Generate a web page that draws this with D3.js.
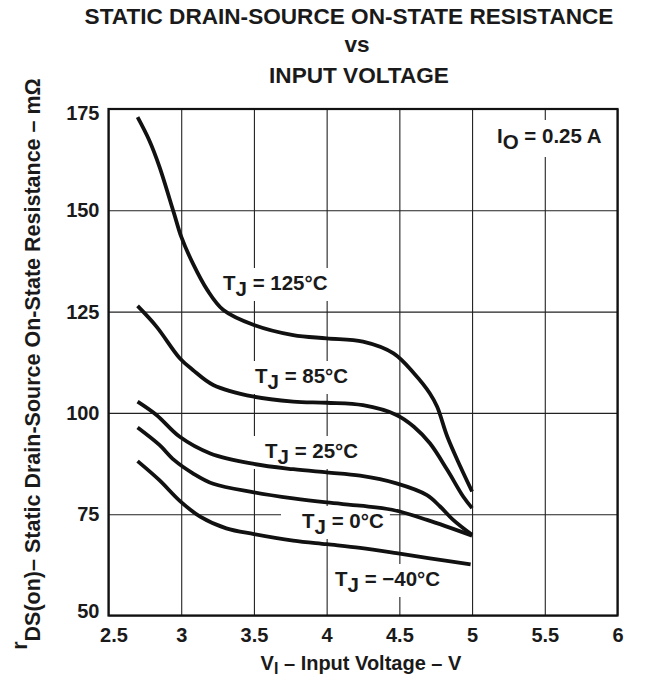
<!DOCTYPE html>
<html>
<head>
<meta charset="utf-8">
<script src="https://cdn.jsdelivr.net/npm/d3@7"></script>
<style>
  html, body { margin: 0; padding: 0; background: #fff; }
  svg { display: block; }
  text { font-family: "Liberation Sans", Arial, Helvetica, sans-serif; font-weight: bold; fill: #1a1a1a; }
</style>
</head>
<body>
<svg id="chart" width="650" height="679"></svg>
<script>
// ---------- data ----------
const xTicks = [2.5, 3, 3.5, 4, 4.5, 5, 5.5, 6];
const xTickLabels = ["2.5", "3", "3.5", "4", "4.5", "5", "5.5", "6"];
const yTicks = [50, 75, 100, 125, 150, 175];
const yTickLabels = ["50", "75", "100", "125", "150", "175"];

const v125 = [2.70, 2.78, 2.85, 2.95, 3.00, 3.08, 3.18, 3.29, 3.50, 3.77, 4.00, 4.25, 4.46, 4.60, 4.71, 4.76, 4.83, 4.92, 5.00];
const r125 = [173.0, 167.3, 160.8, 149.3, 143.5, 136.9, 130.3, 125.4, 121.7, 119.2, 118.4, 117.6, 114.7, 109.8, 104.8, 101.5, 94.1, 86.7, 80.6];

const v85 = [2.70, 2.83, 2.99, 3.08, 3.22, 3.50, 3.77, 4.00, 4.25, 4.48, 4.60, 4.71, 4.83, 4.94, 5.00];
const r85 = [126.4, 121.3, 113.5, 110.6, 106.9, 104.0, 102.8, 102.5, 101.9, 99.5, 96.6, 92.5, 85.9, 79.3, 76.5];

const v25 = [2.70, 2.83, 2.99, 3.20, 3.50, 3.77, 4.00, 4.23, 4.48, 4.69, 4.78, 4.87, 5.00];
const r25 = [102.8, 99.5, 94.1, 90.0, 87.4, 86.1, 85.3, 84.5, 82.6, 79.7, 76.9, 73.6, 69.9];

const v0 = [2.70, 2.85, 2.95, 3.08, 3.22, 3.50, 3.77, 4.00, 4.23, 4.45, 4.69, 5.00];
const r0 = [96.4, 92.1, 88.4, 85.1, 82.5, 80.4, 78.9, 77.9, 77.1, 76.1, 73.6, 69.7];

const vM40 = [2.70, 2.85, 2.99, 3.13, 3.31, 3.50, 3.77, 4.00, 4.23, 4.48, 4.71, 4.99];
const rM40 = [88.1, 83.4, 78.3, 74.4, 71.5, 70.1, 68.5, 67.6, 66.7, 65.4, 64.1, 62.6];

const seriesNames = ["125°C", "85°C", "25°C", "0°C", "−40°C"];
const seriesV = [v125, v85, v25, v0, vM40];
const seriesR = [r125, r85, r25, r0, rM40];

// ---------- layout ----------
const svg = d3.select("#chart");
const x = d3.scaleLinear().domain([2.5, 6]).range([108.5, 617.5]);
const y = d3.scaleLinear().domain([50, 175]).range([615.5, 109]);
const X0 = x.range()[0], X1 = x.range()[1], Y0 = y.range()[0], Y1 = y.range()[1];

// title
const title = svg.append("text").attr("text-anchor", "middle").style("font-size", "22.6px");
title.append("tspan").attr("x", 349).attr("y", 24).text("STATIC DRAIN-SOURCE ON-STATE RESISTANCE");
title.append("tspan").attr("x", 357).attr("y", 52).text("vs");
title.append("tspan").attr("x", 359).attr("y", 83).text("INPUT VOLTAGE");

// grid
const grid = svg.append("g");
grid.append("g").attr("transform", `translate(0,${Y0})`)
  .call(d3.axisBottom(x).tickValues(xTicks).tickSize(-(Y0 - Y1)).tickFormat(""))
  .call(g => g.select(".domain").remove())
  .call(g => g.selectAll("line").attr("stroke", "#222").attr("stroke-width", 1.1));
grid.append("g").attr("transform", `translate(${X0},0)`)
  .call(d3.axisLeft(y).tickValues(yTicks).tickSize(-(X1 - X0)).tickFormat(""))
  .call(g => g.select(".domain").remove())
  .call(g => g.selectAll("line").attr("stroke", "#222").attr("stroke-width", 1.1));

const bgLayer = svg.append("g");
const curveLayer = svg.append("g");
const labelLayer = svg.append("g");

// frame
svg.append("rect").attr("x", X0).attr("y", Y1).attr("width", X1 - X0).attr("height", Y0 - Y1)
  .attr("fill", "none").attr("stroke", "#111").attr("stroke-width", 2.2);

// tick labels
svg.append("g").attr("transform", `translate(0,${Y0})`)
  .call(d3.axisBottom(x).tickValues(xTicks).tickSize(0).tickPadding(12)
    .tickFormat((d, i) => xTickLabels[i]))
  .call(g => g.select(".domain").remove())
  .call(g => g.selectAll("text").style("font-size", "20px").style("font-family", null)
    .attr("dx", (d, i) => i === 0 ? 5 : 0));
svg.append("g").attr("transform", `translate(${X0},0)`)
  .call(d3.axisLeft(y).tickValues(yTicks).tickSize(0).tickPadding(9)
    .tickFormat((d, i) => yTickLabels[i]))
  .call(g => g.select(".domain").remove())
  .call(g => g.selectAll("text").style("font-size", "20px").style("font-family", null)
    .attr("dy", d => d === 175 ? "0.52em" : d === 50 ? "0.12em" : "0.32em"));

// axis titles
const xt = svg.append("text").attr("x", 361).attr("y", 670).attr("text-anchor", "middle").style("font-size", "20px");
xt.append("tspan").text("V");
xt.append("tspan").attr("dy", 4).style("font-size", "16px").text("I");
xt.append("tspan").attr("dy", -4).text(" – Input Voltage – V");

const yt = svg.append("text").attr("transform", "translate(40,364) rotate(-90)")
  .attr("text-anchor", "middle").style("font-size", "21.5px");
yt.append("tspan").attr("dy", -13).text("r");
yt.append("tspan").attr("dy", 13).text("DS(on)– Static Drain-Source On-State Resistance – mΩ");

// curves
const line = d3.line().x(d => x(d[0])).y(d => y(d[1])).curve(d3.curveCatmullRom.alpha(0.5));
seriesV.forEach((vs, i) => {
  const pts = vs.map((v, j) => [v, seriesR[i][j]]);
  curveLayer.append("path").attr("d", line(pts)).attr("fill", "none")
    .attr("stroke", "#111").attr("stroke-width", 3.8).attr("stroke-linecap", "butt");
});

// curve labels
const labelPx = [[223, 290], [255, 383], [265, 458], [302, 528], [335, 586]];
const padL = [4, 4, 12, 21, 4];
seriesNames.forEach((name, i) => {
  const t = labelLayer.append("text").attr("x", labelPx[i][0]).attr("y", labelPx[i][1]).style("font-size", "20.5px");
  t.append("tspan").text("T");
  t.append("tspan").attr("dy", 6).text("J");
  t.append("tspan").attr("dy", -6).text(" = " + name);
  const b = t.node().getBBox();
  bgLayer.append("rect").attr("x", b.x - padL[i]).attr("y", b.y - 3).attr("width", b.width + padL[i] + 6)
    .attr("height", b.height + 4).attr("fill", "#fff");
});

// IO label
const io = labelLayer.append("text").attr("x", 497).attr("y", 143).style("font-size", "20.5px");
io.append("tspan").text("I");
io.append("tspan").attr("dy", 6).text("O");
io.append("tspan").attr("dy", -6).text(" = 0.25 A");
{
  const b = io.node().getBBox();
  bgLayer.append("rect").attr("x", b.x - 4).attr("y", b.y - 4).attr("width", b.width + 8)
    .attr("height", b.height + 8).attr("fill", "#fff");
}
</script>
</body>
</html>
